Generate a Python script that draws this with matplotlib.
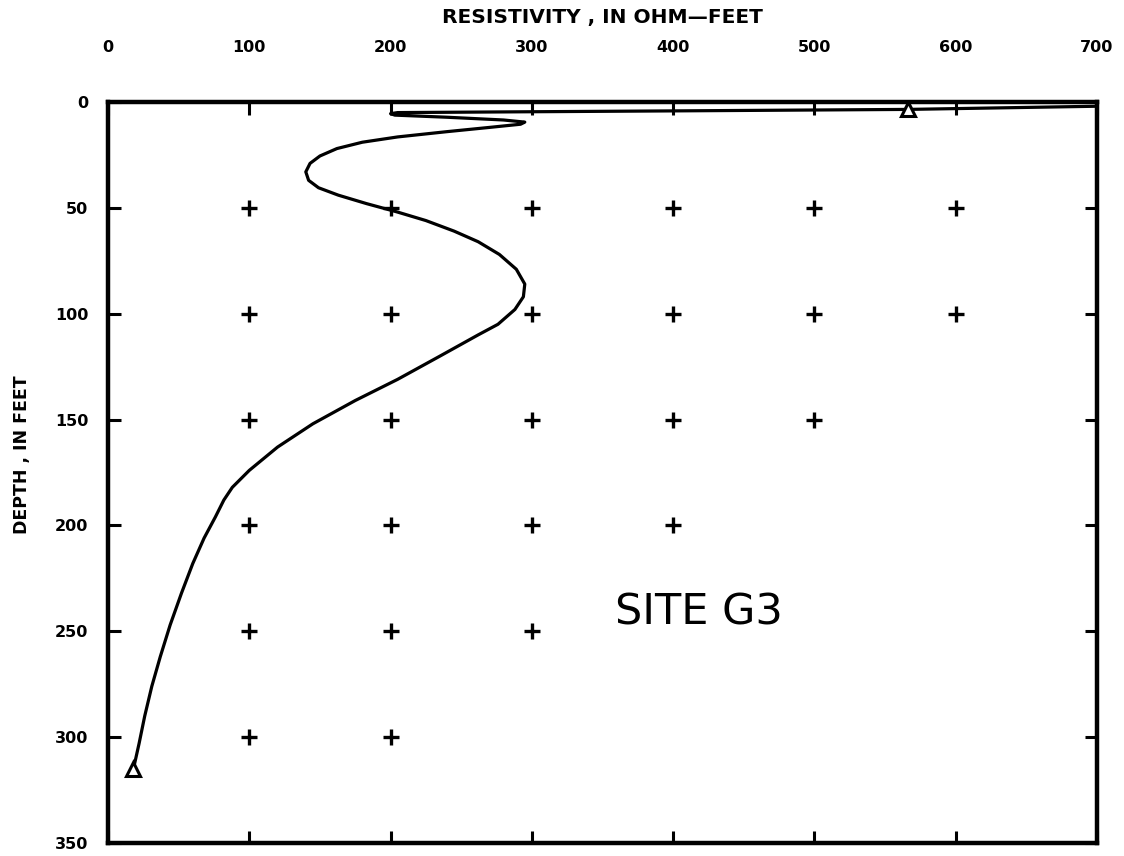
import numpy as np
import matplotlib
matplotlib.use("Agg")
import matplotlib.pyplot as plt

# Perfil de resistividad, sitio G3
resistivity = [760, 700, 566, 400, 300, 205, 200, 203, 240, 280, 295, 292, 270, 240,
               205, 180, 162, 150, 143, 140, 142, 149, 163, 183, 205, 225, 245, 262,
               277, 289, 295, 294, 288, 276, 262, 235, 205, 175, 145, 120, 100, 88,
               82, 76, 68, 60, 52, 44, 37, 31, 26, 22, 18]
depth = [1.5, 2, 3.5, 4.2, 4.6, 5, 5.5, 6.2, 7.2, 8.5, 9.5, 10.5, 12, 14,
         16.5, 19, 22, 25.5, 29, 33, 37, 40.5, 44, 48, 52, 56, 61, 66,
         72, 79, 86, 92, 98, 105, 110, 120, 131, 141, 152, 163, 174, 182,
         188, 196, 206, 218, 232, 247, 262, 276, 290, 303, 315]

# marcadores de inicio y fin del modelo
tri_res = [566, 18]
tri_depth = [3.5, 315]

# cuadricula de cruces
grid_res = [100, 200, 300, 400, 500, 600,
            100, 200, 300, 400, 500, 600,
            100, 200, 300, 400, 500,
            100, 200, 300, 400,
            100, 200, 300,
            100, 200]
grid_depth = [50] * 6 + [100] * 6 + [150] * 5 + [200] * 4 + [250] * 3 + [300] * 2

x_ticks = [0, 100, 200, 300, 400, 500, 600, 700]
y_ticks = [0, 50, 100, 150, 200, 250, 300, 350]

label_font = ['DejaVu Sans']

fig = plt.figure(figsize=(11.24, 8.56), dpi=100)
ax = fig.add_axes([108 / 1124, 1 - 843 / 856, (1097 - 108) / 1124, (843 - 102) / 856])

ax.plot(resistivity, depth, color='black', linewidth=2.3, solid_joinstyle='round')
ax.plot(tri_res, tri_depth, linestyle='none', marker='^', markersize=10,
        markerfacecolor='white', markeredgecolor='black', markeredgewidth=2.2)
ax.plot(grid_res, grid_depth, linestyle='none', marker='+', markersize=12,
        markeredgewidth=2.4, color='black')

ax.set_xlim(0, 700)
ax.set_ylim(350, 0)

ax.set_xticks(x_ticks)
ax.set_yticks(y_ticks)
ax.set_xticklabels([str(v) for v in x_ticks], fontweight='bold', fontsize=11.5, family=label_font)
ax.set_yticklabels([str(v) for v in y_ticks], fontweight='bold', fontsize=11.5, family=label_font)

ax.tick_params(axis='x', direction='in', length=9, width=2.2, top=True, bottom=True,
               labeltop=True, labelbottom=False, pad=34)
ax.tick_params(axis='y', direction='in', length=9, width=2.2, left=True, right=True,
               labelleft=True, labelright=False, pad=14)

for sp in ax.spines.values():
    sp.set_linewidth(3.2)

fig.text(602 / 1124, 1 - 18 / 856, 'RESISTIVITY , IN OHM\u2014FEET', ha='center', va='center',
         fontsize=14.5, fontweight='bold', family=label_font)
fig.text(22 / 1124, 1 - 455 / 856, 'DEPTH , IN FEET', ha='center', va='center',
         rotation=90, fontsize=12.5, fontweight='bold', family=label_font)

ax.text(418, 241, 'SITE G3', ha='center', va='center', fontsize=31, family=label_font)

fig.savefig('out.png', dpi=100)
